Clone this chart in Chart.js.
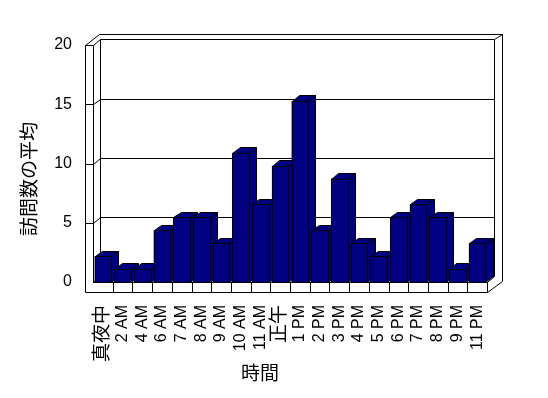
<!DOCTYPE html>
<html>
<head>
<meta charset="utf-8">
<script src="https://cdn.jsdelivr.net/npm/chart.js@4.4.1/dist/chart.umd.min.js"></script>
<style>
    html, body { margin: 0; padding: 0; background: #fff; }
</style>
</head>
<body>
<canvas id="visitsChart" width="548" height="398"></canvas>
<script>
const hours = ['真夜中', '2 AM', '4 AM', '6 AM', '7 AM', '8 AM', '9 AM', '10 AM', '11 AM', '正午',
    '1 PM', '2 PM', '3 PM', '4 PM', '5 PM', '6 PM', '7 PM', '8 PM', '9 PM', '11 PM'];
const avgVisits = [2.18, 1.09, 1.09, 4.36, 5.45, 5.45, 3.27, 10.91, 6.55, 9.82,
    15.27, 4.36, 8.73, 3.27, 2.18, 5.45, 6.55, 5.45, 1.09, 3.27];
const yTicks = [0, 5, 10, 15, 20];
const yTitle = '訪問数の平均';
const xTitle = '時間';

const NAVY = '#000080';
const DX = 7.3, DY = -5.6;     // one step of depth
const WALL = 8.5, FLOOR = 10;  // wall / floor thickness

const px = v => Math.round(v) + 0.5;

function line(ctx, x1, y1, x2, y2) {
    ctx.beginPath();
    ctx.moveTo(px(x1), px(y1));
    ctx.lineTo(px(x2), px(y2));
    ctx.stroke();
}

function poly(ctx, pts, fill) {
    ctx.beginPath();
    pts.forEach((p, i) => i ? ctx.lineTo(px(p[0]), px(p[1])) : ctx.moveTo(px(p[0]), px(p[1])));
    ctx.closePath();
    ctx.fillStyle = fill;
    ctx.fill();
    ctx.stroke();
}

// 3D box: walls, floor, back grid lines
const box3d = {
    id: 'box3d',
    beforeDatasetsDraw(chart) {
        const ctx = chart.ctx;
        const { left: L, right: R, top: T, bottom: B } = chart.chartArea;
        const ys = chart.scales.y, xs = chart.scales.x;
        ctx.save();
        ctx.strokeStyle = '#000';
        ctx.lineWidth = 1;

        poly(ctx, [[L - WALL, T], [L, T], [L, B], [R, B], [R, B + FLOOR], [L - WALL, B + FLOOR]], '#fff');

        line(ctx, L - WALL, T, L - WALL + 2 * DX, T + 2 * DY);
        line(ctx, L, T, L + DX, T + DY);
        line(ctx, L + DX, T + DY, R + DX, T + DY);
        line(ctx, L - WALL + 2 * DX, T + 2 * DY, R + 2 * DX, T + 2 * DY);
        line(ctx, R + DX, T + DY, R + 2 * DX, T + 2 * DY);

        line(ctx, R + DX, T + DY, R + DX, B + DY);
        line(ctx, R + 2 * DX, T + 2 * DY, R + 2 * DX, B + FLOOR + 2 * DY);
        line(ctx, R + 2 * DX, B + FLOOR + 2 * DY, R, B + FLOOR);
        line(ctx, R, B, R + DX, B + DY);
        line(ctx, L + DX, T + DY, L + DX, B + DY);

        yTicks.forEach(v => {
            if (v === yTicks[yTicks.length - 1]) return;
            const y = ys.getPixelForValue(v);
            if (v !== 0) line(ctx, L - WALL, y, L, y);
            line(ctx, L, y, L + DX, y + DY);
            line(ctx, L + DX, y + DY, R + DX, y + DY);
        });

        for (let i = 1; i < hours.length; i++) {
            const x = (xs.getPixelForTick(i - 1) + xs.getPixelForTick(i)) / 2;
            line(ctx, x, B, x, B + FLOOR);
        }
        ctx.restore();
    },
    afterDatasetsDraw(chart) {
        const ctx = chart.ctx;
        const meta = chart.getDatasetMeta(0);
        ctx.save();
        ctx.strokeStyle = '#000';
        ctx.lineWidth = 1;
        meta.data.forEach(bar => {
            const { x, y, base, width } = bar.getProps(['x', 'y', 'base', 'width'], true);
            const x0 = x - width / 2, x1 = x + width / 2;
            poly(ctx, [[x1, y], [x1 + DX, y + DY], [x1 + DX, base + DY], [x1, base]], NAVY);
            poly(ctx, [[x0, y], [x1, y], [x1 + DX, y + DY], [x0 + DX, y + DY]], NAVY);
            poly(ctx, [[x0, y], [x1, y], [x1, base], [x0, base]], NAVY);
        });
        ctx.restore();
    },
    afterDraw(chart) {
        const ctx = chart.ctx;
        ctx.save();
        ctx.fillStyle = '#000';
        ctx.font = '19px "Noto Sans CJK JP", sans-serif';
        ctx.textAlign = 'center';
        ctx.textBaseline = 'middle';
        ctx.fillText(xTitle, 260, 373);
        ctx.translate(29, 179);
        ctx.rotate(-Math.PI / 2);
        ctx.fillText(yTitle, 0, 0);
        ctx.restore();
    }
};

const ctx = document.getElementById('visitsChart').getContext('2d');
new Chart(ctx, {
    type: 'bar',
    data: {
        labels: hours,
        datasets: [{
            data: avgVisits,
            backgroundColor: NAVY,
            borderWidth: 0,
            categoryPercentage: 1,
            barPercentage: 0.84
        }]
    },
    options: {
        responsive: false,
        animation: false,
        devicePixelRatio: 1,
        layout: {
            padding: { top: 45, right: 61, left: 0, bottom: 0 }
        },
        plugins: {
            legend: { display: false },
            tooltip: { enabled: false }
        },
        scales: {
            x: {
                grid: { display: false, drawTicks: false },
                border: { display: false },
                afterFit(s) { s.height = 116; },
                ticks: {
                    color: '#000',
                    autoSkip: false,
                    maxRotation: 90,
                    minRotation: 90,
                    padding: 23,
                    font: c => ({
                        family: '"Liberation Sans", "Noto Sans CJK JP", sans-serif',
                        size: /[^\x00-\x7f]/.test(hours[c.index]) ? 19 : 16
                    })
                }
            },
            y: {
                min: 0,
                max: 20,
                grid: { display: false, drawTicks: false },
                border: { display: false },
                afterFit(s) { s.width = 93; },
                ticks: {
                    color: '#000',
                    stepSize: 5,
                    padding: 21,
                    font: { family: '"Liberation Sans", sans-serif', size: 16 }
                }
            }
        }
    },
    plugins: [box3d]
});
</script>
</body>
</html>
